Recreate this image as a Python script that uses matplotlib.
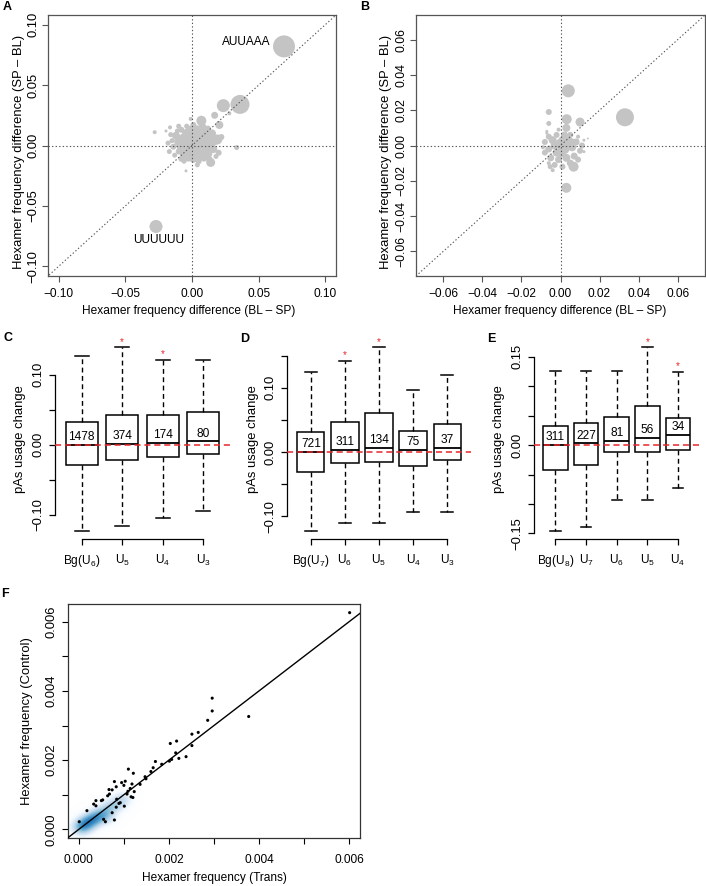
import matplotlib
matplotlib.use('Agg')

import matplotlib.pyplot as plt
from matplotlib.colors import LinearSegmentedColormap
import numpy as np

plt.rcParams['font.family'] = ['Liberation Sans', 'DejaVu Sans']
plt.rcParams['mathtext.default'] = 'regular'

W, H = 706, 886
MINUS = '\u2212'

# panel A: hexamer frequency differences (x, y, bubble weight)
a_x = [0.069, 0.036, 0.0235, 0.017, 0.028, 0.0205, 0.007, -0.001, -0.0165, -0.028, -0.0195, 0.019, 0.0335, 0.014, -0.0045, -0.027,
	-0.012, -0.010, -0.008, -0.006, -0.004, -0.002, 0.000, 0.002, 0.004, 0.006, 0.008, 0.010, 0.012, 0.014, 0.010, 0.006, 0.002,
	-0.002, -0.006, -0.010, -0.014, -0.015, -0.013, -0.008, -0.003, 0.001, 0.005, 0.009, 0.013, 0.016, 0.017, 0.015, 0.012, 0.008,
	0.004, 0.001, -0.004, -0.008, -0.011, -0.016, -0.018, -0.017, 0.003, -0.001, 0.005, -0.004, 0.008, 0.011, 0.007, 0.000, 0.020,
	0.022, 0.013, 0.004, -0.010, 0.018, -0.006, 0.009]
a_y = [0.082, 0.034, 0.033, 0.025, 0.0266, 0.017, 0.0205, 0.022, 0.015, 0.011, 0.012, 0.005, -0.0017, -0.014, -0.021, -0.067,
	0.008, 0.003, -0.002, 0.006, 0.010, 0.013, 0.008, 0.004, -0.001, 0.003, 0.008, 0.012, 0.006, 0.001, -0.004, -0.008, -0.006,
	-0.004, -0.007, -0.005, -0.001, 0.004, -0.008, -0.011, -0.010, -0.011, -0.013, -0.010, -0.007, -0.003, 0.004, 0.010, 0.014, 0.015,
	0.013, 0.017, 0.016, 0.013, 0.012, 0.009, 0.002, -0.005, 0.000, 0.001, 0.007, 0.002, 0.000, 0.002, -0.004, -0.002, -0.006,
	0.007, -0.011, -0.016, 0.016, -0.009, -0.013, 0.004]
a_w = [22, 19, 13, 7, 4, 8, 10, 4, 4, 4, 3, 10, 5, 9, 3, 13,
	8, 9, 9, 10, 9, 8, 10, 12, 12, 10, 9, 8, 9, 9, 10, 9, 10,
	9, 8, 6, 6, 5, 5, 6, 8, 8, 6, 8, 6, 8, 9, 8, 6, 8,
	9, 6, 5, 6, 5, 5, 5, 5, 13, 12, 12, 10, 12, 10, 10, 12, 6,
	6, 6, 5, 5, 5, 5, 10]
a_labels = [('AUUAAA', 0.041, 0.086), ('UUUUUU', -0.025, -0.0785)]

# panel B
b_x = [0.033, 0.004, 0.003, 0.0067, 0.010, 0.0032, 0.003, -0.006, -0.006, -0.007, -0.0053, 0.012, 0.012, 0.014,
	-0.008, -0.006, -0.004, -0.002, 0.000, 0.002, 0.004, 0.006, 0.008, 0.010, 0.007, 0.003, -0.001, -0.005, -0.008, -0.009,
	-0.006, -0.002, 0.002, 0.005, 0.009, 0.011, 0.009, 0.005, 0.001, -0.003, -0.006, -0.004, 0.000, 0.004, -0.003, 0.001,
	0.006, -0.001, -0.007]
b_y = [0.016, 0.031, -0.024, -0.012, 0.0133, 0.0149, 0.010, 0.019, 0.0125, 0.008, -0.012, 0.003, -0.0035, 0.004,
	0.002, -0.002, 0.003, -0.004, 0.001, -0.002, 0.003, -0.001, 0.002, -0.003, -0.006, -0.007, -0.008, -0.007, -0.004, -0.001,
	0.005, 0.006, 0.006, 0.006, 0.005, 0.000, -0.008, -0.010, -0.012, -0.011, -0.010, -0.014, -0.004, 0.000, 0.000, 0.003,
	0.002, 0.009, 0.007]
b_w = [18, 13, 10, 10, 9, 10, 8, 6, 5, 3, 5, 3, 3, 2,
	6, 7, 8, 8, 10, 10, 8, 8, 7, 6, 7, 8, 7, 7, 6, 4,
	6, 6, 7, 6, 4, 6, 6, 7, 6, 6, 4, 4, 10, 10, 8, 8,
	7, 4, 3]

# panels C-E: boxplot statistics of pAs usage change
c_names = ['Bg(U$_6$)', 'U$_5$', 'U$_4$', 'U$_3$']
c_lo = [-0.123, -0.116, -0.104, -0.095]
c_q1 = [-0.029, -0.022, -0.017, -0.013]
c_med = [0.0, 0.001, 0.003, 0.005]
c_q3 = [0.033, 0.043, 0.043, 0.047]
c_hi = [0.126, 0.139, 0.121, 0.121]
c_n = [1478, 374, 174, 80]
c_sig = [False, True, True, False]

d_names = ['Bg(U$_7$)', 'U$_6$', 'U$_5$', 'U$_4$', 'U$_3$']
d_lo = [-0.123, -0.111, -0.111, -0.093, -0.093]
d_q1 = [-0.031, -0.017, -0.015, -0.021, -0.012]
d_med = [0.0, 0.004, 0.007, 0.004, 0.007]
d_q3 = [0.032, 0.047, 0.061, 0.033, 0.043]
d_hi = [0.1245, 0.142, 0.163, 0.096, 0.120]
d_n = [721, 311, 134, 75, 37]
d_sig = [False, True, True, False, False]

e_names = ['Bg(U$_8$)', 'U$_7$', 'U$_6$', 'U$_5$', 'U$_4$']
e_lo = [-0.146, -0.139, -0.093, -0.093, -0.072]
e_q1 = [-0.043, -0.034, -0.011, -0.011, -0.0085]
e_med = [0.0, 0.003, 0.007, 0.012, 0.017]
e_q3 = [0.033, 0.037, 0.047, 0.066, 0.046]
e_hi = [0.126, 0.126, 0.126, 0.166, 0.124]
e_n = [311, 227, 81, 56, 34]
e_sig = [False, False, False, True, True]

# panel F: hexamer frequencies, dense core and sparse points
f_core_x = [0.00003, 0.00005, 0.00007, 0.0001, 0.0001, 0.00012, 0.00014, 0.00015, 0.00017, 0.0002, 0.0002, 0.00022, 0.00024,
	0.00026, 0.00028, 0.0003, 0.00032, 0.00035, 0.00038, 0.0004, 0.00043, 0.00046, 0.0005, 0.00055, 0.0006, 0.00065, 0.0007,
	0.00078, 0.00085, 0.00095, 0.00048, 0.00055, 0.0006, 0.00008, 0.00018, 0.00025, 0.00033, 0.00012, 0.0003, 0.0004]
f_core_y = [0.00002, 0.00006, 0.00004, 0.00008, 0.00012, 0.0001, 0.00013, 0.00017, 0.00014, 0.00018, 0.00022, 0.0002, 0.00021,
	0.00025, 0.00024, 0.00027, 0.0003, 0.00031, 0.00034, 0.00036, 0.00038, 0.00042, 0.00043, 0.00047, 0.00052, 0.00055, 0.00062,
	0.00068, 0.00074, 0.00085, 0.0003, 0.00035, 0.00038, 0.00006, 0.00016, 0.00022, 0.00028, 0.00014, 0.00026, 0.00033]
f_pt_x = [0.00601, 0.00296, 0.00296, 0.00286, 0.00377, 0.00251, 0.00265, 0.00251, 0.00217, 0.00203, 0.00215, 0.00238, 0.00222,
	0.00201, 0.00206, 0.00184, 0.00170, 0.00165, 0.00160, 0.00147, 0.00149, 0.00136, 0.00121, 0.00110, 0.00118, 0.00114, 0.00120,
	0.00107, 0.00109, 0.00100, 0.00095, 0.00103, 0.00079, 0.00083, 0.00074, 0.00067, 0.00064, 0.00068, 0.00053, 0.00050, 0.00038,
	0.00033, 0.00038, 0.00018, 0.00084, 0.00089, 0.00092, 0.00083, 0.00074, 0.00079, 0.00055, 0.00059, 0.00001, 0.00101, 0.00123,
	0.00116]
f_pt_y = [0.00626, 0.00379, 0.00342, 0.00315, 0.00326, 0.00275, 0.00280, 0.00242, 0.00255, 0.00248, 0.00221, 0.00210, 0.00205,
	0.00197, 0.00202, 0.00188, 0.00196, 0.00178, 0.00167, 0.00152, 0.00146, 0.00130, 0.00162, 0.00174, 0.00131, 0.00118, 0.00092,
	0.00102, 0.00110, 0.00127, 0.00135, 0.00139, 0.00138, 0.00123, 0.00114, 0.00115, 0.00097, 0.00102, 0.00085, 0.00083, 0.00083,
	0.00073, 0.00068, 0.00054, 0.00087, 0.00075, 0.00077, 0.00064, 0.00048, 0.00027, 0.00029, 0.00022, 0.00022, 0.00067, 0.00109,
	0.00094]

RED = '#e8262b'
FS = 8.6
FS_ROT = 9.4


def px_axes(fig, left, top, right, bottom):
	return fig.add_axes([left / W, 1 - bottom / H, (right - left) / W, (bottom - top) / H])


def fig_text(fig, x, y, s, size=FS, **kw):
	fig.text(x / W, 1 - y / H, s, ha='center', va='center', fontsize=size, **kw)


def fmt(v, digits):
	s = '%.*f' % (digits, abs(v))
	return (MINUS + s) if v < -1e-12 else s


def rotate_yticks(ax, size=FS_ROT):
	for lbl in ax.get_yticklabels():
		lbl.set_rotation(90)
		lbl.set_va('center')
		lbl.set_fontsize(size)


def bubble_panel(ax, xs, ys, ws, lim, ticks, ysize=FS_ROT):
	sizes = (np.array(ws) * 0.72) ** 2
	ax.scatter(xs, ys, s=sizes, c='#c4c4c4', edgecolors='none', zorder=2)
	dot = dict(color='#555555', lw=0.8, ls=(0, (1.2, 2)), zorder=3)
	ax.axhline(0, **dot)
	ax.axvline(0, **dot)
	ax.plot([-1, 1], [-1, 1], **dot)
	ax.set_xlim(lim)
	ax.set_ylim(lim)
	ax.set_xticks(ticks, [fmt(t, 2) for t in ticks])
	ax.set_yticks(ticks, [fmt(t, 2) for t in ticks])
	ax.tick_params(direction='out', length=4.3, width=0.8, color='#555555', labelsize=FS, pad=2)
	ax.tick_params(axis='x', pad=4.5)
	rotate_yticks(ax, ysize)
	for sp in ax.spines.values():
		sp.set_color('#555555')
		sp.set_linewidth(0.9)


def box_panel(ax, names, lo, q1, med, q3, hi, counts, sig, ylim, yticks, ylabels):
	n = len(names)
	pos = np.arange(1, n + 1)
	stats = [dict(whislo=lo[i], q1=q1[i], med=med[i], q3=q3[i], whishi=hi[i]) for i in range(n)]
	ax.bxp(stats, positions=pos, widths=0.8, capwidths=0.34, showfliers=False, patch_artist=True,
		boxprops=dict(facecolor='white', edgecolor='black', linewidth=1.1),
		whiskerprops=dict(color='black', linewidth=1.0, linestyle=(0, (3.5, 2.5))),
		capprops=dict(color='black', linewidth=1.1),
		medianprops=dict(color='black', linewidth=1.3))
	ax.axhline(0, color=RED, lw=1.1, ls=(0, (4, 2.5)), zorder=5)
	for i in range(n):
		ax.annotate(str(counts[i]), (pos[i], med[i]), xytext=(0, 1.2), textcoords='offset points',
			ha='center', va='bottom', fontsize=FS, zorder=6)
		if sig[i]:
			ax.annotate('*', (pos[i], hi[i]), xytext=(0, 0.5), textcoords='offset points',
				ha='center', va='bottom', fontsize=7, color=RED, annotation_clip=False)
	ax.set_xlim(0.5 - 0.04 * n, n + 0.5 + 0.04 * n)
	ax.set_ylim(ylim)
	ax.set_xticks(pos, names)
	ax.set_yticks(yticks, ylabels)
	ax.tick_params(direction='out', length=4.3, width=0.9, labelsize=FS)
	ax.tick_params(axis='x', pad=6)
	ax.tick_params(axis='y', pad=3)
	rotate_yticks(ax)
	ax.spines['top'].set_visible(False)
	ax.spines['right'].set_visible(False)
	ax.spines['bottom'].set_bounds(1, n)
	ax.spines['left'].set_bounds(yticks[0], yticks[-1])
	for sp in ('bottom', 'left'):
		ax.spines[sp].set_linewidth(0.9)
	ax.patch.set_visible(False)


fig = plt.figure(figsize=(W / 100, H / 100), dpi=100)

# A
ax_a = px_axes(fig, 48, 15, 336, 276)
bubble_panel(ax_a, a_x, a_y, a_w, (-0.108, 0.108), [-0.10, -0.05, 0.0, 0.05, 0.10])
for txt, tx, ty in a_labels:
	ax_a.text(tx, ty, txt, ha='center', va='center', fontsize=FS)
fig_text(fig, 189, 311, 'Hexamer frequency difference (BL \u2013 SP)')
fig_text(fig, 19, 152, 'Hexamer frequency difference (SP \u2013 BL)', size=FS_ROT, rotation=90)

# B
ax_b = px_axes(fig, 416, 15, 705, 276)
bubble_panel(ax_b, b_x, b_y, b_w, (-0.074, 0.074), [-0.06, -0.04, -0.02, 0.0, 0.02, 0.04, 0.06], ysize=8.8)
fig_text(fig, 560, 311, 'Hexamer frequency difference (BL \u2013 SP)')
fig_text(fig, 386, 152, 'Hexamer frequency difference (SP \u2013 BL)', size=FS_ROT, rotation=90)

# C, D, E
ax_c = px_axes(fig, 55, 340, 230, 538.5)
box_panel(ax_c, c_names, c_lo, c_q1, c_med, c_q3, c_hi, c_n, c_sig, (-0.1335, 0.1495),
	[-0.10, -0.05, 0.0, 0.05, 0.10], [MINUS + '0.10', '', '0.00', '', '0.10'])
fig_text(fig, 20, 439, 'pAs usage change', size=FS_ROT, rotation=90)

ax_d = px_axes(fig, 287, 340, 471, 538.5)
box_panel(ax_d, d_names, d_lo, d_q1, d_med, d_q3, d_hi, d_n, d_sig, (-0.1344, 0.1744),
	[-0.10, -0.05, 0.0, 0.05, 0.10, 0.15], [MINUS + '0.10', '', '0.00', '', '0.10', ''])
fig_text(fig, 253, 439, 'pAs usage change', size=FS_ROT, rotation=90)

ax_e = px_axes(fig, 534, 340, 699.5, 538.5)
box_panel(ax_e, e_names, e_lo, e_q1, e_med, e_q3, e_hi, e_n, e_sig, (-0.1585, 0.1785),
	[-0.15, -0.10, -0.05, 0.0, 0.05, 0.10, 0.15], [MINUS + '0.15', '', '', '0.00', '', '', '0.15'])
fig_text(fig, 499, 439, 'pAs usage change', size=FS_ROT, rotation=90)

# F
ax_f = px_axes(fig, 68, 604, 360, 838)
f_xlim = (-0.00024, 0.00624)
f_ylim = (-0.00025, 0.00651)
gx = np.linspace(f_xlim[0], f_xlim[1], 300)
gy = np.linspace(f_ylim[0], f_ylim[1], 300)
GX, GY = np.meshgrid(gx, gy)
dens = np.zeros_like(GX)
bw = 0.0001
for x0, y0 in zip(f_core_x, f_core_y):
	dens += np.exp(-((GX - x0) ** 2 + (GY - y0) ** 2) / (2 * bw ** 2))
dens = (dens / dens.max()) ** 0.35
blues = LinearSegmentedColormap.from_list('smooth', ['#FFFFFF', '#F7FBFF', '#DEEBF7', '#C6DBEF', '#9ECAE1', '#6BAED6',
	'#4292C6', '#2171B5', '#08519C', '#08306B'])
ax_f.imshow(dens, origin='lower', extent=[f_xlim[0], f_xlim[1], f_ylim[0], f_ylim[1]], cmap=blues,
	vmin=0, vmax=1.3, aspect='auto', interpolation='bilinear', zorder=1)
ax_f.scatter(f_pt_x, f_pt_y, s=5, c='black', edgecolors='none', zorder=3)
ax_f.plot([-1, 1], [-1, 1], color='black', lw=1.0, zorder=4)
ax_f.set_xlim(f_xlim)
ax_f.set_ylim(f_ylim)
f_ticks = [0.000, 0.001, 0.002, 0.003, 0.004, 0.005, 0.006]
f_lbls = ['%.3f' % t if i % 2 == 0 else '' for i, t in enumerate(f_ticks)]
ax_f.set_xticks(f_ticks, f_lbls)
ax_f.set_yticks(f_ticks, f_lbls)
ax_f.tick_params(direction='out', length=4.3, width=0.8, labelsize=FS, pad=3)
ax_f.tick_params(axis='x', pad=7)
rotate_yticks(ax_f)
for sp in ax_f.spines.values():
	sp.set_linewidth(0.9)
	sp.set_color('#333333')
fig_text(fig, 214, 878, 'Hexamer frequency (Trans)')
fig_text(fig, 27, 721, 'Hexamer frequency (Control)', size=FS_ROT, rotation=90)

# panel letters
for letter, lx, ly in [('A', 7, 7), ('B', 365, 7), ('C', 8, 338), ('D', 245, 339), ('E', 491, 339), ('F', 5, 594)]:
	fig.text(lx / W, 1 - ly / H, letter, ha='center', va='center', fontsize=9, fontweight='bold')

fig.savefig('out.png', dpi=100)
